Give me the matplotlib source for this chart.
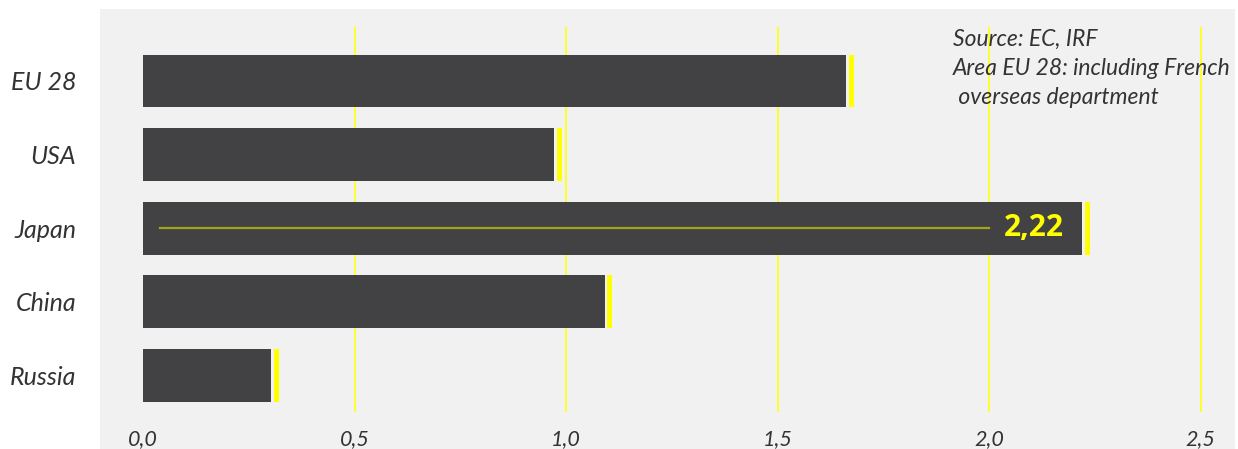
import matplotlib
matplotlib.use("Agg")
import matplotlib.pyplot as plt
from matplotlib.patches import Rectangle

# ---- data ----
categories = ["EU 28", "USA", "Japan", "China", "Russia"]
values = [1.662, 0.972, 2.22, 1.092, 0.303]
xticks = [0.0, 0.5, 1.0, 1.5, 2.0, 2.5]
xtick_labels = ["0,0", "0,5", "1,0", "1,5", "2,0", "2,5"]
gridlines = [0.5, 1.0, 1.5, 2.0, 2.5]
highlight_category = "Japan"
highlight_label = "2,22"
highlight_line = [0.04, 2.0]
note_lines = ["Source: EC, IRF", "Area EU 28: including French", " overseas department"]

W, H = 1238, 449
fig = plt.figure(figsize=(W / 100, H / 100), dpi=100)
fig.patch.set_facecolor("white")

def fx(px):
    return px / W

def fy(py):
    return 1 - py / H

# gray panel
fig.patches.append(Rectangle((fx(100), 0), fx(1235) - fx(100), fy(9), transform=fig.transFigure,
                             facecolor="#f0f1f0", edgecolor="none", zorder=-10))

ax_left, ax_right, ax_top, ax_bottom = 100, 1235, 27, 412
ax = fig.add_axes([fx(ax_left), fy(ax_bottom), fx(ax_right) - fx(ax_left), (ax_bottom - ax_top) / H])
ax.set_facecolor("none")
ax.set_zorder(1)

scale = 423.0  # px per unit
x0px = 143
ax.set_xlim((ax_left - x0px) / scale, (ax_right - x0px) / scale)
step = 73.6
c0 = 81
ax.set_ylim((ax_bottom - c0) / step, (ax_top - c0) / step)

ypos = list(range(len(categories)))
bar_h = 0.72
for xv in gridlines:
    ax.axvline(xv, color="#ffff20", lw=1.3, zorder=1)

ax.barh(ypos, values, height=bar_h, color="#424244", zorder=2)
marker_gap = 2.5 / scale
marker_w = 5 / scale
ax.barh(ypos, [marker_w] * len(values), left=[v + marker_gap for v in values], height=bar_h,
        color="#ffff00", zorder=2)

hi = categories.index(highlight_category)
ax.plot(highlight_line, [hi, hi], color="#a3a31c", lw=1.6, zorder=3)
ax.text(values[hi] - 18 / scale, hi, highlight_label, ha="right", va="center", color="#ffff00",
        fontsize=21.5, fontweight="bold", family="Open Sans", zorder=4)

for s in ax.spines.values():
    s.set_visible(False)
ax.set_xticks(xticks)
ax.set_xticklabels(xtick_labels, fontsize=15.5, style="italic", family="Lato", color="#333333")
ax.set_yticks(ypos)
ax.set_yticklabels(categories, fontsize=18, style="italic", family="Lato", color="#333333")
ax.tick_params(axis="x", length=0, pad=12)
ax.tick_params(axis="y", length=0, pad=17)

for i, line in enumerate(note_lines):
    fig.text(fx(953), fy(29 + i * 29), line, ha="left", va="top", fontsize=16.5, style="italic",
             family="Lato", color="#333333")

fig.savefig("out.png", dpi=100)
